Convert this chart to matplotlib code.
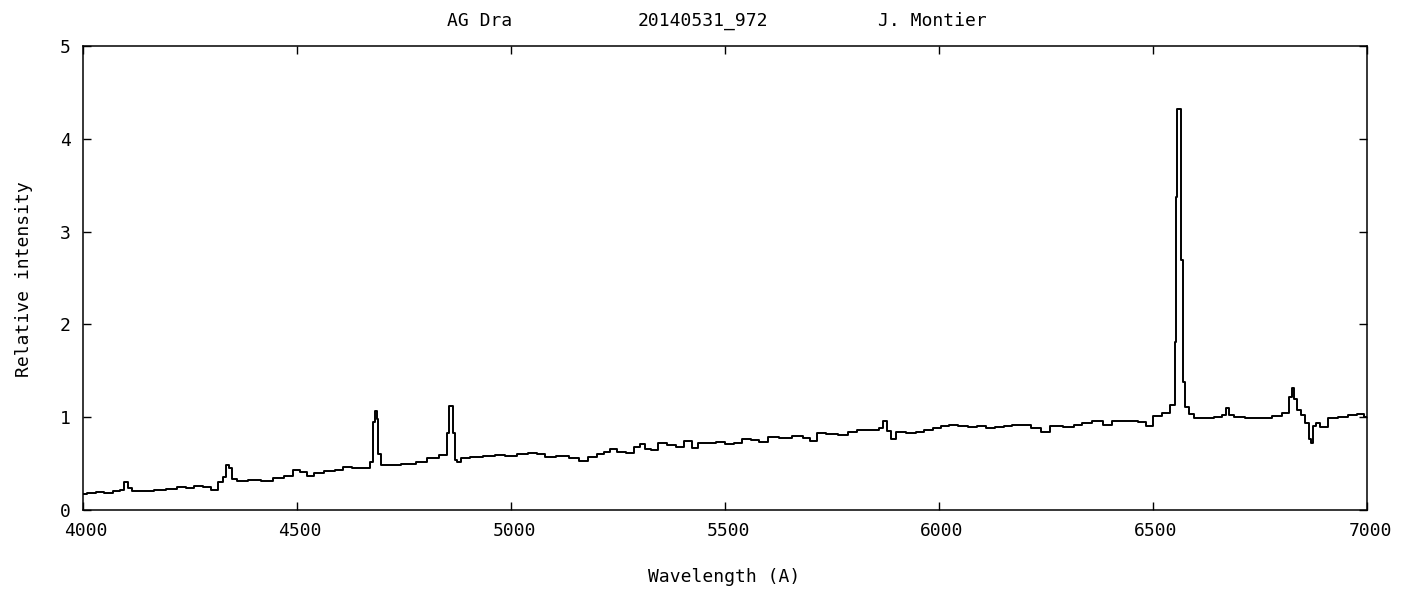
import matplotlib
matplotlib.use('Agg')
import matplotlib.pyplot as plt
import matplotlib.transforms as mtransforms

# Spectrum values (wavelength in A, relative intensity)
wavelength = [
    4000, 4020, 4040, 4060, 4080, 4093, 4100, 4108, 4120, 4150,
    4180, 4210, 4230, 4250, 4270, 4290, 4310, 4322, 4330, 4338,
    4344, 4350, 4370, 4400, 4430, 4460, 4480, 4500, 4515, 4530,
    4550, 4577, 4600, 4617, 4640, 4663, 4676, 4680, 4684, 4688,
    4692, 4699, 4720, 4764, 4790, 4818, 4847, 4853, 4858, 4862,
    4866, 4871, 4878, 4890, 4920, 4950, 4974, 5000, 5030, 5051,
    5070, 5091, 5120, 5150, 5168, 5190, 5210, 5224, 5238, 5258,
    5278, 5295, 5308, 5320, 5332, 5355, 5375, 5395, 5414, 5430,
    5442, 5470, 5488, 5510, 5530, 5551, 5570, 5589, 5612, 5640,
    5675, 5690, 5706, 5722, 5750, 5776, 5800, 5815, 5855, 5866,
    5874, 5882, 5892, 5909, 5935, 5956, 5975, 5995, 6015, 6033,
    6055, 6079, 6100, 6120, 6142, 6160, 6182, 6205, 6225, 6252,
    6265, 6275, 6306, 6325, 6345, 6372, 6394, 6415, 6453, 6475,
    6493, 6509, 6533, 6548, 6553, 6556, 6558, 6564, 6565, 6568,
    6572, 6577, 6590, 6603, 6630, 6655, 6668, 6673, 6680, 6700,
    6730, 6766, 6790, 6813, 6822, 6827, 6832, 6839, 6851, 6860,
    6867, 6872, 6877, 6883, 6897, 6921, 6945, 6967, 6985, 7000,
]
intensity = [
    0.17, 0.18, 0.19, 0.18, 0.20, 0.22, 0.30, 0.24, 0.21, 0.21,
    0.22, 0.23, 0.25, 0.24, 0.26, 0.25, 0.22, 0.30, 0.36, 0.49,
    0.45, 0.33, 0.31, 0.32, 0.31, 0.35, 0.37, 0.43, 0.41, 0.37,
    0.40, 0.42, 0.43, 0.46, 0.45, 0.45, 0.52, 0.95, 1.07, 0.98,
    0.60, 0.49, 0.48, 0.50, 0.52, 0.56, 0.59, 0.83, 1.12, 1.12,
    0.83, 0.54, 0.52, 0.56, 0.57, 0.58, 0.59, 0.58, 0.60, 0.61,
    0.60, 0.57, 0.58, 0.56, 0.53, 0.57, 0.60, 0.62, 0.66, 0.63,
    0.61, 0.68, 0.71, 0.66, 0.65, 0.72, 0.70, 0.68, 0.74, 0.67,
    0.72, 0.72, 0.73, 0.71, 0.72, 0.76, 0.75, 0.73, 0.79, 0.78,
    0.80, 0.78, 0.74, 0.83, 0.82, 0.81, 0.84, 0.86, 0.86, 0.88,
    0.96, 0.85, 0.77, 0.84, 0.83, 0.84, 0.86, 0.88, 0.90, 0.92,
    0.91, 0.89, 0.91, 0.88, 0.89, 0.91, 0.92, 0.92, 0.88, 0.84,
    0.90, 0.91, 0.89, 0.92, 0.94, 0.96, 0.92, 0.96, 0.96, 0.95,
    0.91, 1.01, 1.05, 1.13, 1.81, 3.37, 4.32, 4.32, 3.37, 2.69,
    1.38, 1.11, 1.03, 0.99, 0.99, 1.00, 1.02, 1.10, 1.02, 1.00,
    0.99, 0.99, 1.01, 1.05, 1.22, 1.31, 1.20, 1.08, 1.02, 0.94,
    0.76, 0.72, 0.90, 0.94, 0.89, 0.99, 1.00, 1.02, 1.03, 1.00,
]

x_ticks = [4000, 4500, 5000, 5500, 6000, 6500, 7000]
y_ticks = [0, 1, 2, 3, 4, 5]

title_parts = ['AG Dra', '20140531_972', 'J. Montier']
title_x_px = [447, 638, 878]   # left edge of each title part, in pixels

FONT = 'DejaVu Sans Mono'
FSIZE = 13
W, H = 1412, 590


def setup_axes(fig):
    '''Axes box placed like the gnuplot frame'''
    left, right, top, bottom = 83, 1367, 46, 510
    ax = fig.add_axes([left / W, 1 - bottom / H, (right - left) / W, (bottom - top) / H])
    ax.set_xlim(4000, 7000)
    ax.set_ylim(0, 5)
    ax.set_xticks(x_ticks)
    ax.set_yticks(y_ticks)
    ax.tick_params(direction='in', length=6, width=1.0, top=True, right=True,
                   labelsize=FSIZE, pad=9, colors='black')
    for lab in ax.get_xticklabels() + ax.get_yticklabels():
        lab.set_family(FONT)
    # gnuplot puts the x tick labels a few pixels to the right
    offset = mtransforms.ScaledTranslation(3 / 100, 0, fig.dpi_scale_trans)
    for lab in ax.get_xticklabels():
        lab.set_transform(lab.get_transform() + offset)
    for sp in ax.spines.values():
        sp.set_linewidth(1.1)
        sp.set_color('black')
    return ax


def draw_labels(fig):
    '''Title parts and axis labels'''
    for txt, xp in zip(title_parts, title_x_px):
        fig.text(xp / W, 1 - 21 / H, txt, ha='left', va='center',
                 family=FONT, fontsize=FSIZE)
    fig.text(724 / W, 1 - 577 / H, 'Wavelength (A)', ha='center', va='center',
             family=FONT, fontsize=FSIZE)
    fig.text(24 / W, 1 - 279 / H, 'Relative intensity', ha='center', va='center',
             rotation=90, family=FONT, fontsize=FSIZE)


if __name__ == '__main__':
    fig = plt.figure(figsize=(W / 100, H / 100), dpi=100)
    ax = setup_axes(fig)
    ax.plot(wavelength, intensity, color='black', linewidth=1.4,
            drawstyle='steps-mid')
    draw_labels(fig)
    fig.savefig('out.png', dpi=100)
